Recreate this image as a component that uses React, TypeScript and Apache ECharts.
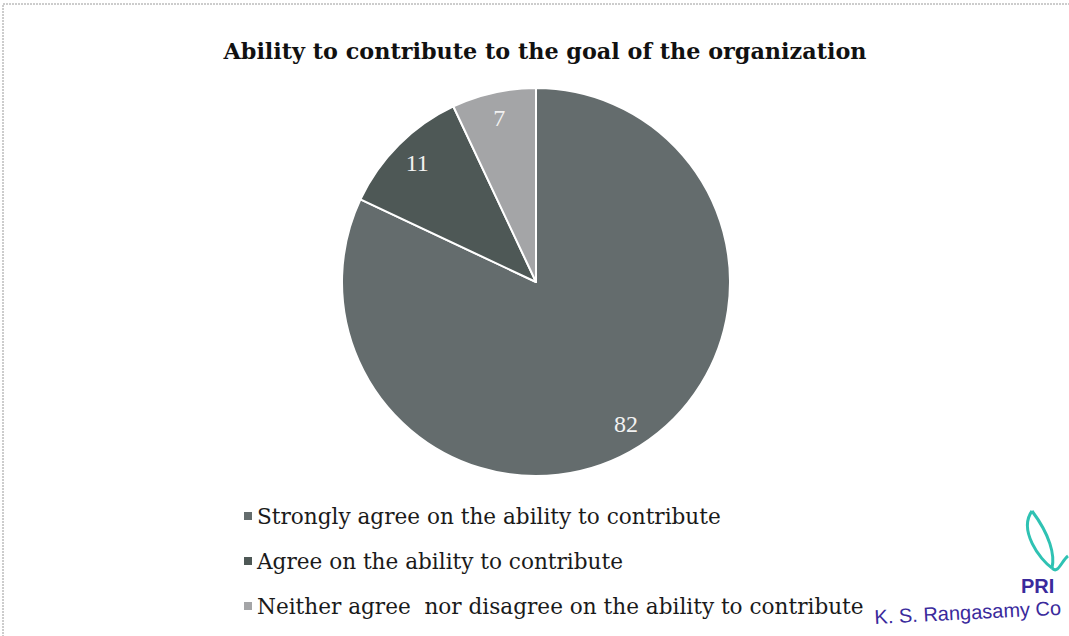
import React, { useEffect, useRef } from "react";
import * as echarts from "echarts";

const titleText = "Ability to contribute to the goal of the organization";
const categories = [
  "Strongly agree on the ability to contribute",
  "Agree on the ability to contribute",
  "Neither agree  nor disagree on the ability to contribute",
];
const values = [82, 11, 7];
const colors = ["#646c6d", "#4e5856", "#a4a5a7"];

export default function App() {
  const ref = useRef<HTMLDivElement>(null);
  useEffect(() => {
    if (!ref.current) return;
    const chart = echarts.init(ref.current, null, { renderer: "svg" });
    const data = categories.map((name, i) => ({
      name,
      value: values[i],
      itemStyle: { color: colors[i] },
    }));
    const serif = "'Liberation Serif', 'DejaVu Serif', serif";
    const wideSerif = "'DejaVu Serif', serif";
    const R = 194;
    chart.setOption({
      animation: false,
      backgroundColor: "#ffffff",
      title: {
        text: titleText,
        left: 540,
        textAlign: "center",
        top: 35,
        textStyle: {
          fontFamily: wideSerif,
          fontWeight: "bold",
          fontSize: 22.3,
          color: "#111",
        },
      },
      legend: {
        orient: "vertical",
        left: 237,
        top: 500,
        itemWidth: 10,
        itemHeight: 10,
        itemGap: 23,
        icon: "rect",
        data: categories,
        textStyle: { fontFamily: wideSerif, fontSize: 21.6, color: "#1a1a1a", padding: [0, 0, 0, -1] },
      },
      series: [
        {
          type: "pie",
          center: [536, 282],
          radius: [0, R],
          startAngle: 90,
          clockwise: true,
          data,
          label: { show: false },
          labelLine: { show: false },
          itemStyle: { borderColor: "#ffffff", borderWidth: 2 },
          emphasis: { disabled: true },
        },
        {
          type: "pie",
          center: [536, 282],
          radius: [R * 0.7, R],
          startAngle: 90,
          clockwise: true,
          silent: true,
          data: data.map((d) => ({ ...d, itemStyle: { color: "rgba(0,0,0,0)" } })),
          itemStyle: { borderWidth: 0 },
          label: {
            show: true,
            position: "inside",
            formatter: "{c}",
            fontFamily: serif,
            fontSize: 24,
            color: "#f2f2f2",
          },
          labelLine: { show: false },
          emphasis: { disabled: true },
        },
      ],
      graphic: [
        {
          type: "rect",
          shape: { x: 3, y: 4, width: 1100, height: 700 },
          style: { fill: "none", stroke: "#9a9a9a", lineWidth: 1, lineDash: [2, 1] },
          silent: true,
        },
        {
          type: "bezierCurve",
          shape: { x1: 1032, y1: 511, x2: 1052, y2: 568, cpx1: 1018, cpy1: 530, cpx2: 1040, cpy2: 560 },
          style: { stroke: "#2fc2b3", lineWidth: 3, fill: "none" },
          silent: true,
        },
        {
          type: "bezierCurve",
          shape: { x1: 1032, y1: 511, x2: 1052, y2: 568, cpx1: 1050, cpy1: 535, cpx2: 1055, cpy2: 555 },
          style: { stroke: "#2fc2b3", lineWidth: 3, fill: "none" },
          silent: true,
        },
        {
          type: "bezierCurve",
          shape: { x1: 1052, y1: 568, x2: 1068, y2: 556, cpx1: 1058, cpy1: 575, cpx2: 1062, cpy2: 560 },
          style: { stroke: "#2fc2b3", lineWidth: 3, fill: "none" },
          silent: true,
        },
        {
          type: "text",
          x: 1021,
          y: 576,
          style: {
            text: "PRI",
            fill: "#3a2a9c",
            font: "bold 20px 'Liberation Sans', Arial, sans-serif",
          },
          silent: true,
        },
        {
          type: "text",
          x: 874,
          y: 607,
          rotation: 0.05,
          style: {
            text: "K. S. Rangasamy Co",
            fill: "#3a2a9c",
            font: "20px 'Liberation Sans', Arial, sans-serif",
          },
          silent: true,
        },
      ],
    });
    return () => chart.dispose();
  }, []);
  return (
    <div
      ref={ref}
      style={{ position: "absolute", left: 0, top: 0, width: 1069, height: 636 }}
    />
  );
}
